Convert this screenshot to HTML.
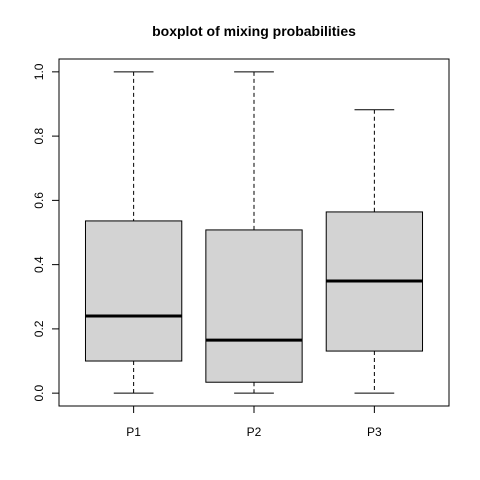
<!DOCTYPE html>
<html><head><meta charset="utf-8"><style>
html,body{margin:0;padding:0;background:#fff;}
svg{display:block;font-family:"Liberation Sans",Arial,sans-serif;}
</style></head><body>
<svg id="chart" width="480" height="480">
<text x="254" y="36" text-anchor="middle" font-size="14" font-weight="bold">boxplot of mixing probabilities</text>
<rect x="59" y="59" width="390" height="347" fill="none" stroke="#000"/>
<g id="marks"></g>
</svg>
<script>
const categories = ["P1","P2","P3"];
const mins = [0, 0, 0];
const q1s = [0.100, 0.034, 0.131];
const medians = [0.240, 0.165, 0.349];
const q3s = [0.536, 0.508, 0.564];
const maxs = [1.0, 1.0, 0.882];
const yTicks = [0, 0.2, 0.4, 0.6, 0.8, 1.0];
const yTickLabels = ["0.0","0.2","0.4","0.6","0.8","1.0"];

const NS = "http://www.w3.org/2000/svg";
const g = document.getElementById('marks');
const L=59,R=449,T=59,B=406;
const n = categories.length;
const xlo=0.5-0.04*n, xhi=n+0.5+0.04*n;
function x(v){return L+(v-xlo)/(xhi-xlo)*(R-L);}
function y(v){const lo=-0.04,hi=1.04;return B-(v-lo)/(hi-lo)*(B-T);}
function el(tag,attrs){const e=document.createElementNS(NS,tag);for(const k in attrs)e.setAttribute(k,attrs[k]);g.appendChild(e);return e;}

// y axis
let ax = el('line',{x1:L,x2:L,y1:y(0),y2:y(1),stroke:'#000'});


yTicks.forEach((t,i)=>{
  const tk=el('line',{x1:L-7,x2:L,y1:y(t),y2:y(t),stroke:'#000'});
  
  
  const tx=el('text',{x:0,y:0,'font-size':12,'text-anchor':'middle',transform:`translate(43,${y(t)}) rotate(-90)`});
  tx.textContent=yTickLabels[i];
  
  
});
// x axis
let xa = el('line',{x1:x(1),x2:x(n),y1:B,y2:B,stroke:'#000'});


const bw=0.8, cw=0.33;
categories.forEach((c,i)=>{
  const cx=x(i+1);
  const tk=el('line',{x1:cx,x2:cx,y1:B,y2:B+7,stroke:'#000'});
  
  
  const tx=el('text',{x:cx,y:436,'font-size':12,'text-anchor':'middle'});
  tx.textContent=c;
  
  
  const half=(x(1+bw/2)-x(1)), ch=(x(1+cw/2)-x(1));
  const w1=el('line',{x1:cx,x2:cx,y1:y(maxs[i]),y2:y(q3s[i]),stroke:'#000','stroke-dasharray':'4,3'});
  
  
  const w2=el('line',{x1:cx,x2:cx,y1:y(q1s[i]),y2:y(mins[i]),stroke:'#000','stroke-dasharray':'4,3'});
  
  
  const c1=el('line',{x1:cx-ch,x2:cx+ch,y1:y(maxs[i]),y2:y(maxs[i]),stroke:'#000'});
  
  
  const c2=el('line',{x1:cx-ch,x2:cx+ch,y1:y(mins[i]),y2:y(mins[i]),stroke:'#000'});
  
  
  const bx=el('rect',{x:cx-half,y:y(q3s[i]),width:2*half,height:y(q1s[i])-y(q3s[i]),fill:'#d3d3d3',stroke:'#000'});
  
  
  const md=el('line',{x1:cx-half,x2:cx+half,y1:y(medians[i]),y2:y(medians[i]),stroke:'#000','stroke-width':3});
  
  
});
</script>
</body></html>
